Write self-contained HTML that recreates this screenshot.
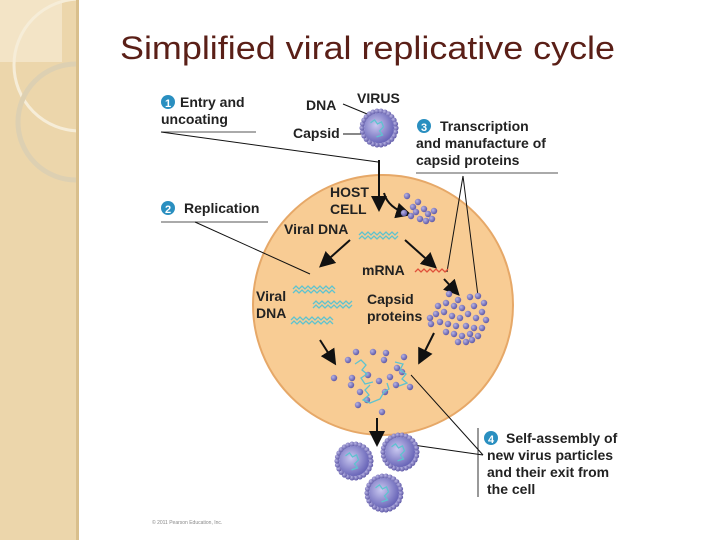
<!DOCTYPE html>
<html><head><style>
html,body{margin:0;padding:0;width:720px;height:540px;overflow:hidden;background:#fff}
svg{display:block}
text{font-family:"Liberation Sans",Arial,sans-serif;font-weight:bold;fill:#222}
</style></head><body>
<svg width="720" height="540" viewBox="0 0 720 540" xmlns="http://www.w3.org/2000/svg">
<defs>
<radialGradient id="vg" cx="0.4" cy="0.4" r="0.7"><stop offset="0" stop-color="#c9c8f0"/><stop offset="1" stop-color="#5b57b0"/></radialGradient>
<radialGradient id="dg" cx="0.35" cy="0.35" r="0.7"><stop offset="0" stop-color="#b8b4e4"/><stop offset="1" stop-color="#5a54a4"/></radialGradient>
<marker id="ah" markerWidth="8" markerHeight="8" refX="6" refY="4" orient="auto"><path d="M0,0 L8,4 L0,8 Z" fill="#111"/></marker>
<clipPath id="strip"><rect x="0" y="0" width="76" height="540"/></clipPath>
</defs>
<rect x="0" y="0" width="78" height="540" fill="#ecd6ab"/>
<rect x="76" y="0" width="3" height="540" fill="#d9bf8c"/>
<g clip-path="url(#strip)">
<rect x="0" y="0" width="62" height="62" fill="#f3e4c6"/>
<circle cx="80" cy="65" r="66" fill="none" stroke="#f6edd8" stroke-width="3"/>
<circle cx="76" cy="122" r="58" fill="none" stroke="#ddd0b2" stroke-width="5"/>
</g>
<text x="120" y="59" font-size="32" textLength="495" lengthAdjust="spacingAndGlyphs" style="font-weight:normal;fill:#5a1f17">Simplified viral replicative cycle</text>

<circle cx="383" cy="305" r="130" fill="#f8cc94" stroke="#e6a868" stroke-width="2"/>

<g font-size="14">
<circle cx="168" cy="102" r="7" fill="#2a8fc0"/><text x="168" y="107" font-size="11" text-anchor="middle" style="fill:#fff">1</text>
<text x="180" y="107">Entry and</text><text x="161" y="124">uncoating</text>
<line x1="161" y1="132" x2="256" y2="132" stroke="#555"/>
<circle cx="168" cy="208" r="7" fill="#2a8fc0"/><text x="168" y="213" font-size="11" text-anchor="middle" style="fill:#fff">2</text>
<text x="184" y="213">Replication</text>
<line x1="161" y1="222" x2="268" y2="222" stroke="#555"/>
<circle cx="424" cy="126" r="7" fill="#2a8fc0"/><text x="424" y="131" font-size="11" text-anchor="middle" style="fill:#fff">3</text>
<text x="440" y="131">Transcription</text><text x="416" y="148">and manufacture of</text><text x="416" y="165">capsid proteins</text>
<line x1="416" y1="173" x2="558" y2="173" stroke="#555"/>
<circle cx="491" cy="438" r="7" fill="#2a8fc0"/><text x="491" y="443" font-size="11" text-anchor="middle" style="fill:#fff">4</text>
<text x="506" y="443">Self-assembly of</text><text x="487" y="460">new virus particles</text><text x="487" y="477">and their exit from</text><text x="487" y="494">the cell</text>
<line x1="478" y1="428" x2="478" y2="497" stroke="#333"/>
<text x="306" y="110">DNA</text><text x="357" y="103">VIRUS</text><text x="293" y="138">Capsid</text>
<text x="330" y="197">HOST</text><text x="330" y="214">CELL</text>
<text x="284" y="234">Viral DNA</text>
<text x="362" y="275">mRNA</text>
<text x="256" y="301">Viral</text><text x="256" y="318">DNA</text>
<text x="367" y="304">Capsid</text><text x="367" y="321">proteins</text>
<text x="152" y="524" font-size="5" style="font-weight:normal;fill:#888">© 2011 Pearson Education, Inc.</text>
</g>

<g stroke="#111" stroke-width="1" fill="none">
<line x1="161" y1="132" x2="378" y2="162"/>
<line x1="343" y1="104" x2="372" y2="116"/>
<line x1="343" y1="134" x2="362" y2="134"/>
<line x1="195" y1="222" x2="310" y2="274"/>
<line x1="463" y1="176" x2="447" y2="272"/><line x1="463" y1="176" x2="478" y2="296"/>
<line x1="483" y1="455" x2="392" y2="442"/><line x1="483" y1="455" x2="411" y2="375"/>
</g>
<g stroke="#111" stroke-width="2" fill="none" marker-end="url(#ah)">
<line x1="379" y1="160" x2="379" y2="208"/>
<path d="M384,193 Q388,208 408,214"/>
<line x1="350" y1="240" x2="322" y2="265"/>
<line x1="405" y1="240" x2="434" y2="266"/>
<line x1="444" y1="279" x2="457" y2="293"/>
<line x1="320" y1="340" x2="334" y2="362"/>
<line x1="434" y1="333" x2="420" y2="361"/>
<line x1="377" y1="418" x2="377" y2="443"/>
</g>
<g id="dots"></g>
<g stroke="#5ec3cf" stroke-width="1.3" fill="none">
<path d="M359,235 l3,-3 l3,3 l3,-3 l3,3 l3,-3 l3,3 l3,-3 l3,3 l3,-3 l3,3 l3,-3 l3,3 l3,-3"/>
<path d="M359,239 l3,-3 l3,3 l3,-3 l3,3 l3,-3 l3,3 l3,-3 l3,3 l3,-3 l3,3 l3,-3 l3,3 l3,-3"/>
<path d="M293,289 l3,-3 l3,3 l3,-3 l3,3 l3,-3 l3,3 l3,-3 l3,3 l3,-3 l3,3 l3,-3 l3,3 l3,-3 l3,3"/>
<path d="M293,293 l3,-3 l3,3 l3,-3 l3,3 l3,-3 l3,3 l3,-3 l3,3 l3,-3 l3,3 l3,-3 l3,3 l3,-3 l3,3"/>
<path d="M313,304 l3,-3 l3,3 l3,-3 l3,3 l3,-3 l3,3 l3,-3 l3,3 l3,-3 l3,3 l3,-3 l3,3 l3,-3"/>
<path d="M313,308 l3,-3 l3,3 l3,-3 l3,3 l3,-3 l3,3 l3,-3 l3,3 l3,-3 l3,3 l3,-3 l3,3 l3,-3"/>
<path d="M291,320 l3,-3 l3,3 l3,-3 l3,3 l3,-3 l3,3 l3,-3 l3,3 l3,-3 l3,3 l3,-3 l3,3 l3,-3 l3,3"/>
<path d="M291,324 l3,-3 l3,3 l3,-3 l3,3 l3,-3 l3,3 l3,-3 l3,3 l3,-3 l3,3 l3,-3 l3,3 l3,-3 l3,3"/>
<path d="M355,364 l6,-4 l5,5 l-4,5 l5,4 l-6,4 l4,6 l8,-2" /><path d="M395,362 l8,2 l-3,6 l6,4 l-4,5 l5,4 l-8,3"/>
<path d="M370,385 l-5,5 l4,5 l-6,5 l7,3 l10,-4 l4,-7 l5,-3 l-2,-6"/>
</g>
<path d="M415,272 l3,-3 l3,3 l3,-3 l3,3 l3,-3 l3,3 l3,-3 l3,3 l3,-3 l3,3 l3,-3" stroke="#e0503a" stroke-width="1.3" fill="none"/>
<g id="viruses"></g>
</svg>
<script>
var ns="http://www.w3.org/2000/svg",d=document.getElementById("dots");
function dot(g,x,y,r){var c=document.createElementNS(ns,"circle");c.setAttribute("cx",x);c.setAttribute("cy",y);c.setAttribute("r",r);c.setAttribute("fill","url(#dg)");g.appendChild(c);}
var pts=[[407,196],[413,207],[404,213],[418,202],[424,209],[411,216],[420,219],[428,214],[434,211],[426,221],[432,219],[416,212],
[449,294],[458,300],[470,297],[478,296],[484,303],[438,306],[446,303],[454,306],[462,308],[474,306],[482,312],[436,314],[444,312],[452,316],[460,318],[468,314],[476,318],[486,320],[440,322],[448,324],[456,326],[466,326],[474,328],[482,328],[446,332],[454,334],[462,336],[470,334],[478,336],[458,342],[466,342],[472,340],[430,318],[431,324],
[356,352],[373,352],[386,353],[384,360],[348,360],[334,378],[352,378],[368,375],[379,381],[390,377],[397,368],[402,372],[396,385],[385,392],[351,385],[360,392],[367,400],[358,405],[382,412],[410,387],[404,357]];
pts.forEach(p=>dot(d,p[0],p[1],3.2));
var v=document.getElementById("viruses");
function virus(cx,cy,R){var g=document.createElementNS(ns,"g");var n=Math.round(R*1.5);
for(var i=0;i<n;i++){var a=i/n*2*Math.PI;dot(g,cx+R*Math.cos(a),cy+R*Math.sin(a),2.6);}
var c=document.createElementNS(ns,"circle");c.setAttribute("cx",cx);c.setAttribute("cy",cy);c.setAttribute("r",R-2);c.setAttribute("fill","url(#vg)");g.appendChild(c);
var p=document.createElementNS(ns,"path");p.setAttribute("d","M"+(cx-R*0.5)+","+(cy-R*0.3)+" l4,-3 l3,4 l4,-2 l2,5 l-4,4 l3,4 l-6,2");p.setAttribute("stroke","#5ec3cf");p.setAttribute("stroke-width","1.3");p.setAttribute("fill","none");g.appendChild(p);
v.appendChild(g);}
virus(379,128,17);virus(354,461,17);virus(400,452,17);virus(384,493,17);
</script>
</body></html>
